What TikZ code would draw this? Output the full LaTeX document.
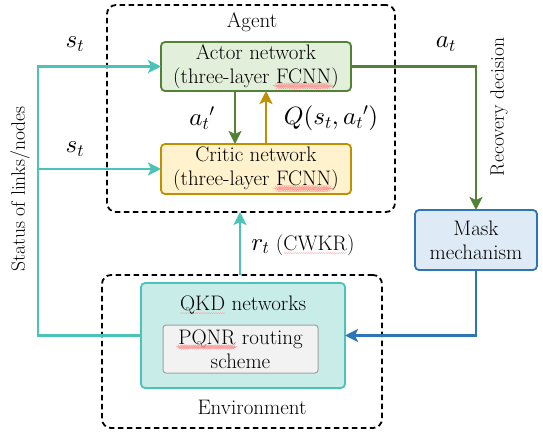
\documentclass[tikz,border=0pt]{standalone}
\DeclareFontShape{OML}{cmm}{m}{it}{<-> cmmi10}{}
\DeclareFontShape{OT1}{cmr}{m}{n}{<-> cmr10}{}
\DeclareFontShape{OMS}{cmsy}{m}{n}{<-> cmsy10}{}
\usetikzlibrary{arrows.meta,decorations.pathmorphing}
\definecolor{tealc}{HTML}{4BC3B8}
\definecolor{tealf}{HTML}{C8ECE8}
\definecolor{greenc}{HTML}{548235}
\definecolor{greenf}{HTML}{E2EFDA}
\definecolor{goldc}{HTML}{BF9000}
\definecolor{goldf}{HTML}{FFF2CC}
\definecolor{bluec}{HTML}{2E75B6}
\definecolor{bluef}{HTML}{DEEBF7}
\definecolor{grayf}{HTML}{F2F2F2}
\definecolor{grayc}{HTML}{A0A0A0}
\newcommand\rwave[1]{\tikz[baseline=(wv.base)]{\node[inner sep=0pt,outer sep=0pt,draw=none,fill=none,minimum size=0pt] (wv) {#1};
  \draw[red!40, line width=0.35pt, solid, decorate, decoration={snake, amplitude=0.45pt, segment length=2.2pt}]
    ([yshift=-2.8pt]wv.base west) -- ([yshift=-2.8pt]wv.base east);}}
\begin{document}
\begin{tikzpicture}[x=1pt,y=-1pt,
  font=\fontsize{21}{24}\selectfont,
  every node/.style={inner sep=0pt, outer sep=0pt},
  net/.style={draw, line width=1.8pt, rounded corners=4pt, align=center},
  dbox/.style={draw=black, dash pattern=on 5.5pt off 3.5pt, line width=1.8pt, rounded corners=9pt},
  conn/.style={line width=2.6pt, -{Stealth[length=13pt,width=13pt,inset=3pt]}},
  mathlbl/.style={font=\fontsize{25}{28}\selectfont},
  side/.style={rotate=90, font=\fontsize{19.5}{22}\selectfont}]
\useasboundingbox (0,0) rectangle (543,434);
% dashed containers
\node[dbox, minimum width=288pt, minimum height=207pt] (agent) at (251,108.5) {};
\node[dbox, minimum width=280pt, minimum height=153pt] (env) at (242,351.5) {};
\node (agentlbl) at (252,22) {Agent};
\node (envlbl) at (252,407) {Environment};
% networks
\node[net, draw=greenc, fill=greenf, minimum width=190pt, minimum height=49pt] (actor) at (256,66.5)
  {Actor network\\(three-layer \rwave{FCNN})};
\node[net, draw=goldc, fill=goldf, minimum width=190pt, minimum height=50pt] (critic) at (256,169)
  {Critic network\\(three-layer \rwave{FCNN})};
\node[net, draw=tealc, fill=tealf, minimum width=204pt, minimum height=105pt] (qkd) at (243,335.5) {};
\node (qkdlbl) at (243,305) {\rwave{QKD} networks};
\node[draw=grayc, fill=grayf, line width=1pt, rounded corners=3pt, align=center,
  minimum width=155pt, minimum height=48pt] (pqnr) at (240.5,349) {\rwave{PQNR} routing\\scheme};
\node[net, draw=bluec, fill=bluef, minimum width=122pt, minimum height=60pt] (mask) at (476,240)
  {Mask\\mechanism};
% coordinates
\coordinate (lcol) at (38,200);
\coordinate (rx) at (240,0);
\coordinate (adx) at (235,0);
\coordinate (qux) at (266,0);
% connectors
\draw[conn, greenc] (actor.south -| adx) -- (critic.north -| adx);
\draw[conn, goldc] (critic.north -| qux) -- (actor.south -| qux);
\draw[conn, tealc] (qkd.west) -| (lcol) |- (actor.west);
\draw[conn, tealc] (lcol |- critic.west) -- (critic.west);
\draw[conn, tealc] (env.north -| rx) -- (agent.south -| rx);
\draw[conn, greenc] (actor.east) -| (mask.north);
\draw[conn, bluec] (mask.south) |- (qkd.east);
% labels
\node[mathlbl] (st1) at (75,44) {$s_t$};
\node[mathlbl] (st2) at (75,149) {$s_t$};
\node[mathlbl] (atp) at (202,118) {$a_t{}'$};
\node[mathlbl] (qlbl) at (331,118) {$Q(s_t,a_t{}')$};
\node[mathlbl] (at) at (446,44) {$a_t$};
\node (rt) at (303,245) {{\fontsize{25}{28}\selectfont$r_t$} (\rwave{CWKR})};
\node[side] (status) at (20,189) {Status of links/nodes};
\node[side] (recov) at (499,107) {Recovery decision};
\end{tikzpicture}
\end{document}
